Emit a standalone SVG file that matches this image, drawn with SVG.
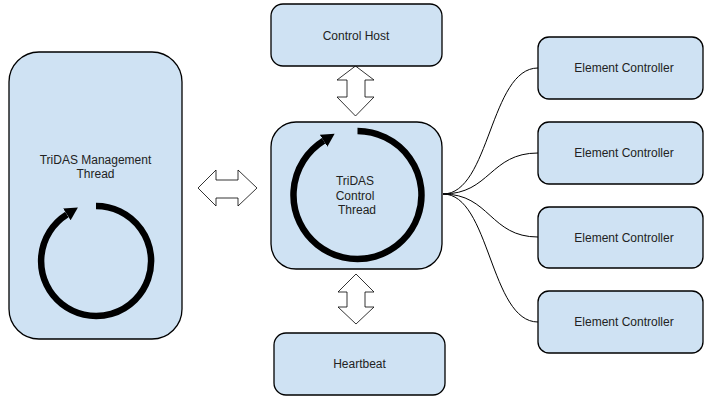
<svg xmlns="http://www.w3.org/2000/svg" width="704" height="398" viewBox="0 0 704 398">
<defs>
<style>
.box{fill:#cfe2f3;stroke:#000;stroke-width:1.3}
.lbl{font-family:"Liberation Sans",Arial,sans-serif;font-size:12px;fill:#222;text-anchor:middle}
.dbl{fill:#fff;stroke:#000;stroke-width:0.8;stroke-linejoin:miter}
.loop{fill:none;stroke:#000;stroke-width:6.5}
.conn{fill:none;stroke:#000;stroke-width:1}
</style>
<marker id="head" markerUnits="userSpaceOnUse" markerWidth="16" markerHeight="16" refX="0" refY="7" orient="auto">
<path d="M0,0 L13,7 L0,14 z" fill="#000"/>
</marker>
</defs>
<rect width="704" height="398" fill="#fff"/>
<g id="connectors">
<path class="conn" d="M443,194 C490,194 490,68 538,68"/>
<path class="conn" d="M443,194 C490,194 490,153 538,153"/>
<path class="conn" d="M443,194 C490,194 490,237 538,237"/>
<path class="conn" d="M443,194 C490,194 490,322 538,322"/>
<polygon id="arrow-mgmt-control" class="dbl" points="198,188 216,170 216,180 238,180 238,170 257,188 238,206 238,198 216,198 216,206"/>
<polygon id="arrow-host-control" class="dbl" points="355.5,66 374,80 365,80 365,97 374,97 355.5,116 337,97 347,97 347,80 337,80"/>
<polygon id="arrow-control-heartbeat" class="dbl" points="356,274 374,292 365,292 365,307 374,307 356,324 338,307 347,307 347,292 338,292"/>
</g>
<g id="mgmt">
<rect class="box" x="9" y="52" width="173" height="287" rx="30"/>
<text class="lbl" x="95.5" y="164">TriDAS Management</text>
<text class="lbl" x="95.5" y="178">Thread</text>
<path class="loop" d="M96,206 A55,55 0 1 1 66.9,214.4" marker-end="url(#head)"/>
</g>
<g id="control-host">
<rect class="box" x="271" y="4" width="171" height="62" rx="12"/>
<text class="lbl" x="356" y="39.5">Control Host</text>
</g>
<g id="control-thread">
<rect class="box" x="271" y="122" width="171" height="147" rx="25"/>
<path class="loop" d="M357.5,131 A64,64 0 1 1 323.6,140.7" marker-end="url(#head)"/>
<text class="lbl" x="355" y="185">TriDAS</text>
<text class="lbl" x="355" y="199.5">Control</text>
<text class="lbl" x="357" y="214">Thread</text>
</g>
<g id="heartbeat">
<rect class="box" x="274" y="333" width="171" height="62" rx="12"/>
<text class="lbl" x="359.5" y="368">Heartbeat</text>
</g>
<g id="ec1">
<rect class="box" x="538" y="37" width="165" height="62" rx="11"/>
<text class="lbl" x="624" y="72">Element Controller</text>
</g>
<g id="ec2">
<rect class="box" x="538" y="122" width="165" height="62" rx="11"/>
<text class="lbl" x="624" y="157">Element Controller</text>
</g>
<g id="ec3">
<rect class="box" x="538" y="207" width="165" height="61" rx="11"/>
<text class="lbl" x="624" y="241.5">Element Controller</text>
</g>
<g id="ec4">
<rect class="box" x="538" y="291" width="165" height="62" rx="11"/>
<text class="lbl" x="624" y="326">Element Controller</text>
</g>
</svg>
